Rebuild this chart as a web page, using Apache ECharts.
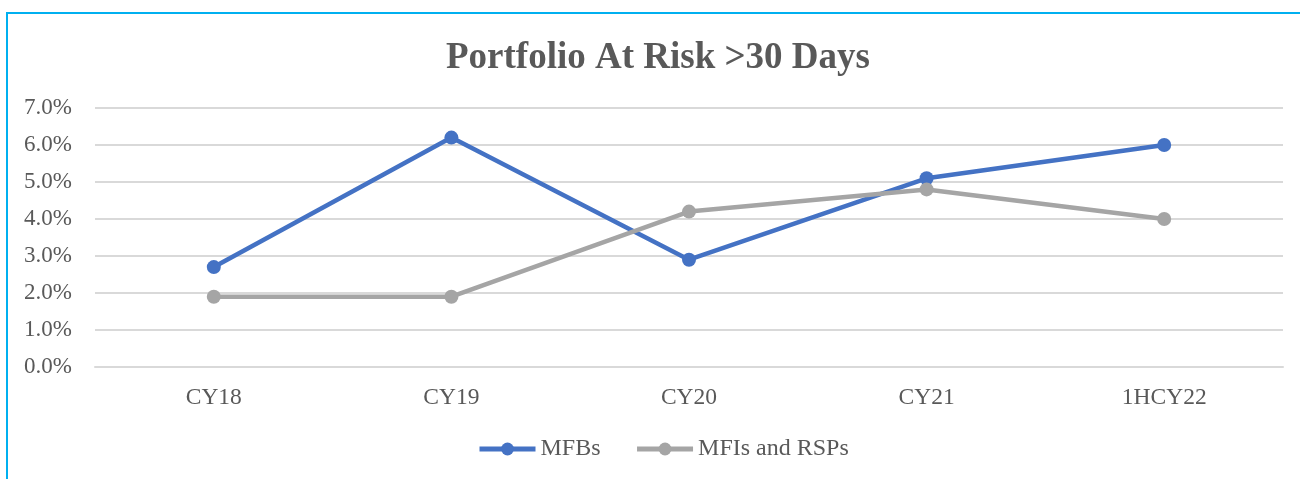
<!doctype html>
<html lang="en">
<head>
    <meta charset="utf-8">
    <title>Portfolio At Risk >30 Days</title>
    <script src="https://cdn.jsdelivr.net/npm/echarts@6.0.0/dist/echarts.min.js"></script>
    <style>
        body { margin: 0; background: #fff; }
    </style>
</head>
<body>
    <div id="main" style="width:1300px; height:479px;"></div>
    <script type="text/javascript">
        var categories = ['CY18', 'CY19', 'CY20', 'CY21', '1HCY22'];
        var mfbs = [2.7, 6.2, 2.9, 5.1, 6.0];
        var mfisRsps = [1.9, 1.9, 4.2, 4.8, 4.0];
        var yTicks = [0, 1, 2, 3, 4, 5, 6, 7];

        var chartDom = document.getElementById('main');
        var myChart = echarts.init(chartDom);
        var font = '"Liberation Serif", "Times New Roman", serif';
        var textColor = '#595959';

        var option = {
            animation: false,
            graphic: [{
                type: 'rect',
                shape: { x: 7, y: 13, width: 1400, height: 600 },
                style: { fill: 'none', stroke: '#00b0f0', lineWidth: 2 }
            }],
            title: {
                text: 'Portfolio At Risk >30 Days',
                left: 441,
                top: 35,
                textStyle: {
                    fontFamily: font,
                    fontSize: 37,
                    fontWeight: 'bold',
                    color: textColor
                }
            },
            legend: {
                left: 472,
                top: 432,
                itemWidth: 56,
                itemHeight: 16,
                itemGap: 34,
                lineStyle: { width: 5 },
                textStyle: {
                    fontFamily: font,
                    fontSize: 24,
                    color: textColor
                },
                data: ['MFBs', 'MFIs and RSPs']
            },
            grid: {
                left: 95,
                right: 17,
                top: 108,
                bottom: 112
            },
            xAxis: {
                type: 'category',
                data: categories,
                axisLine: { show: true, lineStyle: { color: '#d9d9d9', width: 2 } },
                axisTick: { show: false },
                axisLabel: {
                    margin: 19,
                    fontFamily: font,
                    fontSize: 23.5,
                    color: textColor
                }
            },
            yAxis: {
                type: 'value',
                min: yTicks[0],
                max: yTicks[yTicks.length - 1],
                interval: 1,
                axisLine: { show: false },
                axisTick: { show: false },
                splitLine: { lineStyle: { color: '#d9d9d9', width: 2 } },
                axisLabel: {
                    margin: 23,
                    fontFamily: font,
                    fontSize: 23,
                    color: textColor,
                    formatter: function (v) { return v.toFixed(1) + '%'; }
                }
            },
            series: [
                {
                    name: 'MFBs',
                    type: 'line',
                    data: mfbs,
                    symbol: 'circle',
                    symbolSize: 14,
                    itemStyle: { color: '#4472c4' },
                    lineStyle: { color: '#4472c4', width: 4.5 }
                },
                {
                    name: 'MFIs and RSPs',
                    type: 'line',
                    data: mfisRsps,
                    symbol: 'circle',
                    symbolSize: 14,
                    itemStyle: { color: '#a5a5a5' },
                    lineStyle: { color: '#a5a5a5', width: 4.5 }
                }
            ]
        };

        myChart.setOption(option);
    </script>
</body>
</html>
